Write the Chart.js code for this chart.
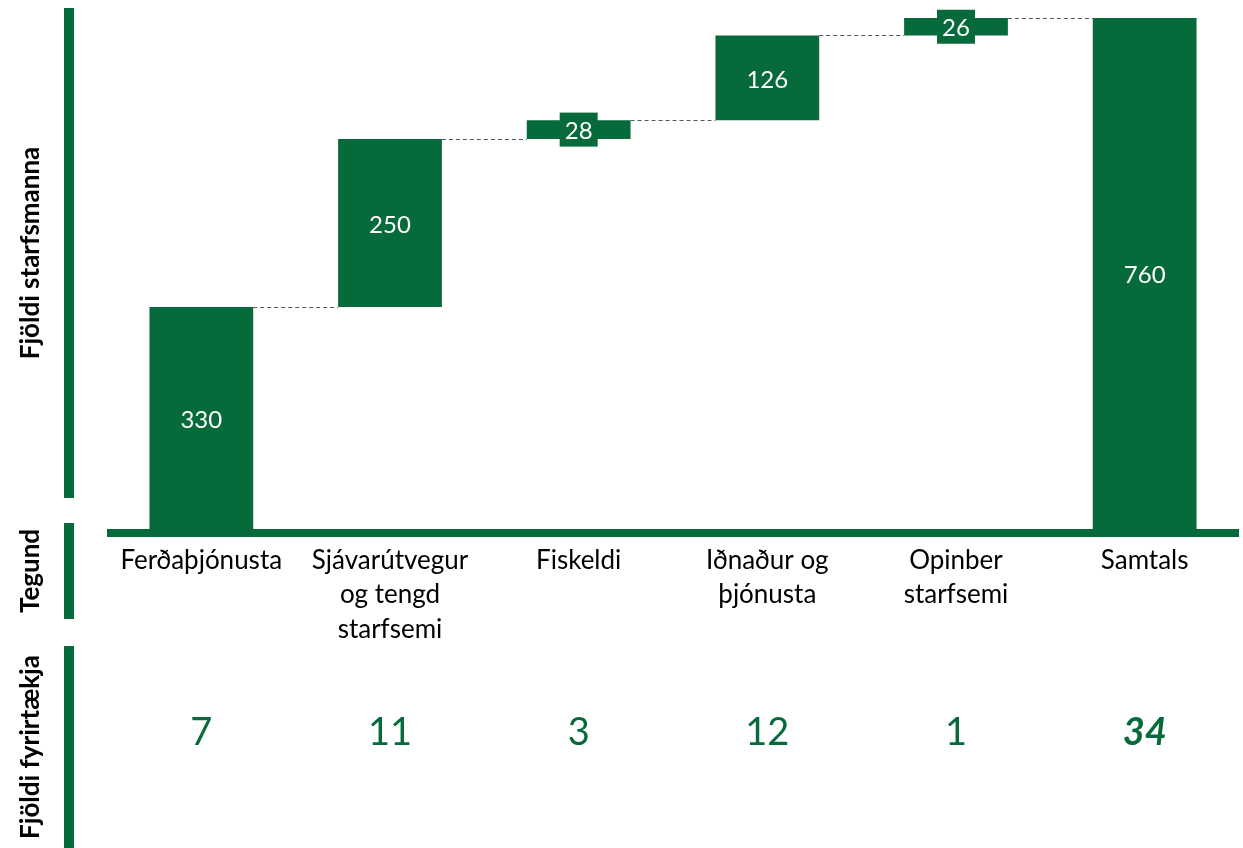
<!DOCTYPE html>
<html lang="is">
<head>
<meta charset="utf-8">
<title>Fjöldi starfsmanna og fyrirtækja eftir tegund</title>
<script src="https://cdn.jsdelivr.net/npm/chart.js@4.4.1/dist/chart.umd.min.js"></script>
<style>
  html, body { margin: 0; padding: 0; background: #fff; }
  #wrap { width: 1243px; height: 848px; }
</style>
</head>
<body>
<div id="wrap"><canvas id="waterfall" width="1243" height="848"></canvas></div>
<script>
const categories = [
    ['Ferðaþjónusta'],
    ['Sjávarútvegur', 'og tengd', 'starfsemi'],
    ['Fiskeldi'],
    ['Iðnaður og', 'þjónusta'],
    ['Opinber', 'starfsemi'],
    ['Samtals']
];
const employees = [330, 250, 28, 126, 26];
const totalEmployees = 760;
const companies = [7, 11, 3, 12, 1, 34];

const green = '#076a3a';
const fontFamily = 'Lato, "Open Sans", sans-serif';

// fljótandi súlur: hvert þrep byrjar þar sem fyrra endaði, samtalan byrjar í 0
let running = 0;
const ranges = employees.map(v => {
    const r = [running, running + v];
    running += v;
    return r;
});
ranges.push([0, totalEmployees]);
const barLabels = employees.concat([totalEmployees]);

// ásaheiti vinstra megin með grænu striki
const sideLabels = [
    { text: 'Fjöldi starfsmanna', top: 8, bottom: 498 },
    { text: 'Tegund', top: 523, bottom: 619 },
    { text: 'Fjöldi fyrirtækja', top: 646, bottom: 848 }
];

const waterfallExtras = {
    id: 'waterfallExtras',
    beforeDatasetsDraw(chart) {
        const { ctx, chartArea } = chart;
        ctx.save();
        ctx.fillStyle = green;
        ctx.fillRect(chartArea.left, chartArea.bottom, chartArea.right - chartArea.left, 8);
        ctx.restore();
    },
    afterDatasetsDraw(chart) {
        const { ctx } = chart;
        const bars = chart.getDatasetMeta(0).data;
        const yScale = chart.scales.y;
        ctx.save();

        // strikalínur milli súlna
        ctx.strokeStyle = '#5a5a5a';
        ctx.lineWidth = 1;
        ctx.setLineDash([4, 3]);
        for (let i = 0; i < bars.length - 1; i++) {
            const py = Math.round(yScale.getPixelForValue(ranges[i][1])) + 0.5;
            const a = bars[i], b = bars[i + 1];
            ctx.beginPath();
            ctx.moveTo(a.x + a.width / 2, py);
            ctx.lineTo(b.x - b.width / 2, py);
            ctx.stroke();
        }
        ctx.setLineDash([]);

        // gildi inni í súlunum
        ctx.font = '24px ' + fontFamily;
        ctx.textAlign = 'center';
        ctx.textBaseline = 'middle';
        bars.forEach((bar, i) => {
            const cy = (bar.y + bar.base) / 2;
            const h = Math.abs(bar.base - bar.y);
            if (h < 30) {
                ctx.fillStyle = green;
                ctx.fillRect(bar.x - 19, cy - 17, 38, 34);
            }
            ctx.fillStyle = '#fff';
            ctx.fillText(String(barLabels[i]), bar.x, cy + 2);
        });
        ctx.restore();
    },
    afterDraw(chart) {
        const { ctx } = chart;
        ctx.save();
        sideLabels.forEach(s => {
            ctx.fillStyle = green;
            ctx.fillRect(64, s.top, 10, s.bottom - s.top);
            ctx.save();
            ctx.translate(31, (s.top + s.bottom) / 2);
            ctx.rotate(-Math.PI / 2);
            ctx.fillStyle = '#000';
            ctx.font = 'bold 26px ' + fontFamily;
            ctx.textAlign = 'center';
            ctx.textBaseline = 'middle';
            ctx.fillText(s.text, 0, 0);
            ctx.restore();
        });
        ctx.restore();
    }
};

Chart.defaults.font.family = fontFamily;

const ctx = document.getElementById('waterfall').getContext('2d');
const chart = new Chart(ctx, {
    type: 'bar',
    data: {
        labels: categories,
        datasets: [{
            data: ranges,
            backgroundColor: green,
            borderWidth: 0,
            barPercentage: 0.55,
            categoryPercentage: 1
        }]
    },
    options: {
        responsive: false,
        animation: false,
        layout: { padding: { left: 107, right: 4, top: 18, bottom: 0 } },
        plugins: {
            legend: { display: false },
            tooltip: { enabled: false }
        },
        scales: {
            x: {
                position: 'bottom',
                offset: true,
                grid: { display: false, drawTicks: false },
                border: { display: false },
                ticks: {
                    color: '#000',
                    font: { size: 26, lineHeight: 1.31 },
                    padding: 15,
                    maxRotation: 0,
                    autoSkip: false
                },
                afterFit(scale) { scale.height = 117; }
            },
            x2: {
                type: 'category',
                axis: 'x',
                position: 'bottom',
                labels: companies.map(String),
                offset: true,
                grid: { display: false, drawTicks: false },
                border: { display: false },
                ticks: {
                    color: green,
                    font: c => c.index === companies.length - 1
                        ? { size: 38, weight: 'bold', style: 'italic', lineHeight: 1.2 }
                        : { size: 38, lineHeight: 1.2 },
                    padding: 64,
                    maxRotation: 0,
                    autoSkip: false
                },
                afterFit(scale) { scale.height = 202; }
            },
            y: {
                display: false,
                min: 0,
                max: totalEmployees
            }
        }
    },
    plugins: [waterfallExtras]
});
</script>
</body>
</html>
